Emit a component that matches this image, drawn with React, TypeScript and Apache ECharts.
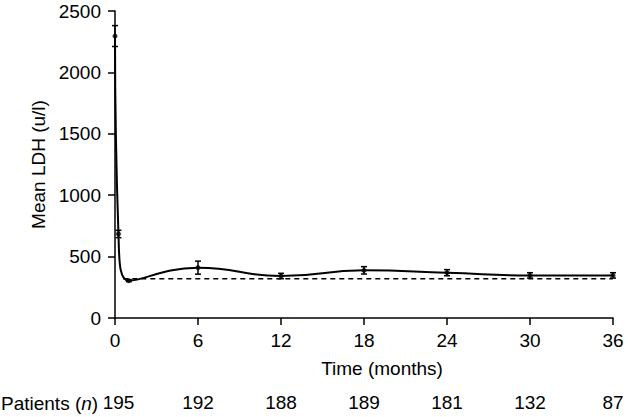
import React, { useEffect, useRef } from "react";
import * as echarts from "echarts";

const months = [0, 0.25, 1, 6, 12, 18, 24, 30, 36];
const meanLDH = [2296, 684, 304, 410, 342, 388, 369, 347, 347];
const errLDH = [85, 30, 8, 53, 22, 30, 25, 22, 22];
const referenceLDH = 320;
const referenceStart = 0.6;
const xTicks = [0, 6, 12, 18, 24, 30, 36];
const patients = [195, 192, 188, 189, 181, 132, 87];

const FONT = "'Liberation Sans', Arial, sans-serif";
const FS = 19;

export default function App() {
  const ref = useRef<HTMLDivElement>(null);
  useEffect(() => {
    if (!ref.current) return;
    document.body.style.margin = "0";
    const chart = echarts.init(ref.current, undefined, { renderer: "svg" });
    const pts = months.map((m, i) => [m, meanLDH[i]]);
    const errs = months.map((m, i) => [m, meanLDH[i] - errLDH[i], meanLDH[i] + errLDH[i]]);
    const patientMap: Record<number, number> = {};
    xTicks.forEach((t, i) => (patientMap[t] = patients[i]));
    chart.setOption({
      animation: false,
      textStyle: { fontFamily: FONT },
      grid: { left: 115, right: 15, top: 11, bottom: 99, containLabel: false },
      xAxis: [
        {
          type: "value",
          min: 0,
          max: 36,
          interval: 6,
          name: "Time (months)",
          nameLocation: "middle",
          nameGap: 41,
          nameTextStyle: { fontSize: FS, color: "#000", fontFamily: FONT, padding: [0, 0, 0, 36] },
          axisLine: { lineStyle: { color: "#000", width: 1.5 } },
          axisTick: { lineStyle: { color: "#000", width: 1.5 }, length: 7 },
          axisLabel: { fontSize: FS, color: "#000", margin: 13, fontFamily: FONT },
          splitLine: { show: false },
        },
        {
          type: "value",
          min: 0,
          max: 36,
          interval: 6,
          position: "bottom",
          offset: 62,
          axisLine: { show: false },
          axisTick: { show: false },
          splitLine: { show: false },
          axisLabel: {
            fontSize: FS,
            color: "#000",
            margin: 13,
            fontFamily: FONT,
            formatter: (v: number) =>
              v === 0 ? `{f|${patientMap[v]}}` : `${patientMap[v] ?? ""}`,
            rich: { f: { fontSize: FS, color: "#000", fontFamily: FONT, padding: [0, 0, 0, 7] } },
          },
        },
      ],
      yAxis: {
        type: "value",
        min: 0,
        max: 2500,
        interval: 500,
        name: "Mean LDH (u/l)",
        nameLocation: "middle",
        nameGap: 67,
        nameTextStyle: { fontSize: FS, color: "#000", fontFamily: FONT },
        axisLine: { show: true, lineStyle: { color: "#000", width: 1.5 } },
        axisTick: { show: true, lineStyle: { color: "#000", width: 1.5 }, length: 7 },
        axisLabel: {
          fontSize: FS,
          color: "#000",
          margin: 14,
          fontFamily: FONT,
          formatter: (v: number) => String(v),
        },
        splitLine: { show: false },
      },
      graphic: [
        {
          type: "text",
          x: 1,
          y: 403,
          style: {
            text: "Patients ({i|n})",
            font: `${FS}px ${FONT}`,
            fill: "#000",
            verticalAlign: "middle",
            rich: { i: { fontStyle: "italic", fontSize: FS, fontFamily: FONT, fill: "#000" } },
          },
        },
      ],
      series: [
        {
          type: "line",
          data: [[referenceStart, referenceLDH], [36, referenceLDH]],
          symbol: "none",
          lineStyle: { color: "#000", width: 1.5, type: [5, 4] },
          silent: true,
        },
        {
          type: "line",
          data: pts,
          smooth: 0.5,
          symbol: "none",
          lineStyle: { color: "#000", width: 2 },
          silent: true,
        },
        {
          type: "custom",
          data: errs,
          renderItem: (params: any, api: any) => {
            const x = api.value(0);
            const lo = api.coord([x, api.value(1)]);
            const hi = api.coord([x, api.value(2)]);
            const w = 3;
            const style = { stroke: "#000", lineWidth: 1.5 };
            return {
              type: "group",
              children: [
                { type: "line", shape: { x1: lo[0], y1: lo[1], x2: hi[0], y2: hi[1] }, style },
                { type: "line", shape: { x1: lo[0] - w, y1: lo[1], x2: lo[0] + w, y2: lo[1] }, style },
                { type: "line", shape: { x1: hi[0] - w, y1: hi[1], x2: hi[0] + w, y2: hi[1] }, style },
              ],
            };
          },
          silent: true,
        },
        {
          type: "scatter",
          data: pts,
          symbol: "circle",
          symbolSize: 5,
          itemStyle: { color: "#000" },
          silent: true,
        },
      ],
    });
    return () => chart.dispose();
  }, []);
  return <div ref={ref} style={{ width: 628, height: 417 }} />;
}
